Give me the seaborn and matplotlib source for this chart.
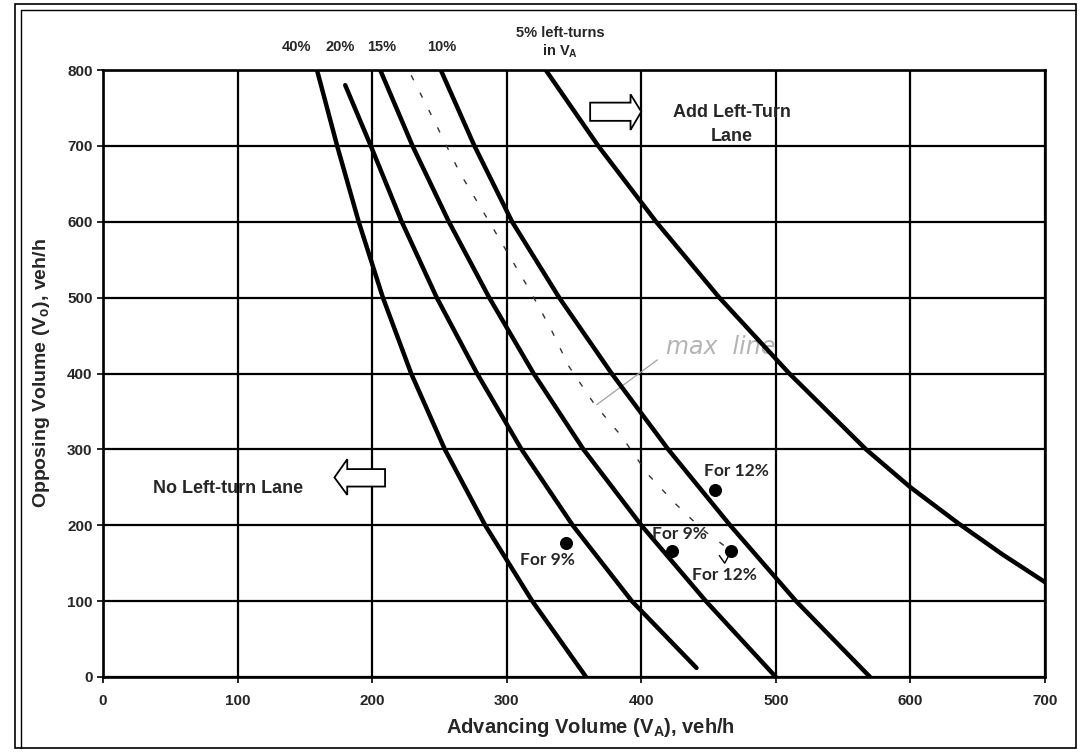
import numpy as np
import pandas as pd
import matplotlib
matplotlib.use("Agg")
import matplotlib.pyplot as plt
from matplotlib.patches import Polygon, Rectangle
from matplotlib.lines import Line2D
import seaborn as sns

# ---------------- data ----------------
curve_names = ["40%", "20%", "15%", "10%", "5%"]

curve40_x = [159, 174, 190, 208, 229, 254, 284, 319, 359]
curve40_y = [800, 700, 600, 500, 400, 300, 200, 100, 0]

curve20_x = [180, 199, 222, 248, 278, 311, 349, 393, 441]
curve20_y = [780, 700, 600, 500, 400, 300, 200, 100, 12]

curve15_x = [206, 230, 257, 287, 320, 357, 400, 448, 500]
curve15_y = [800, 700, 600, 500, 400, 300, 200, 100, 0]

curve10_x = [251, 276, 304, 339, 378, 420, 466, 515, 570]
curve10_y = [800, 700, 600, 500, 400, 300, 200, 100, 0]

curve5_x = [329, 368, 411, 458, 510, 567, 600, 636, 668, 700]
curve5_y = [800, 700, 600, 500, 400, 300, 250, 202, 162, 125]

# hand-drawn dashed 12% line
dash12_x = [229, 247, 265, 288, 306, 318, 333, 346, 365, 385, 405, 425, 445, 467]
dash12_y = [793, 730, 665, 597, 543, 507, 458, 410, 360, 318, 267, 229, 195, 166]

# marked points
pt_x = [344, 423, 455, 467]
pt_y = [177, 166, 246, 166]
pt_labels = ["For 9%", "For 9%", "For 12%", "For 12%"]
lab_x = [330, 428, 471, 462]
lab_y = [154, 188, 271, 134]

top_labels = ["40%", "20%", "15%", "10%"]
top_label_x = [144, 176, 207, 252]

x_ticks = [0, 100, 200, 300, 400, 500, 600, 700]
y_ticks = [0, 100, 200, 300, 400, 500, 600, 700, 800]

# ---------------- style ----------------
sns.set_theme(style="white")
plt.rcParams["font.family"] = ["Liberation Sans", "DejaVu Sans"]
plt.rcParams["mathtext.fontset"] = "custom"
plt.rcParams["mathtext.rm"] = "Liberation Sans"
plt.rcParams["mathtext.it"] = "Liberation Sans:italic"
plt.rcParams["mathtext.bf"] = "Liberation Sans:bold"

fig = plt.figure(figsize=(10.8, 7.52), dpi=100)
ax = fig.add_axes([103 / 1080, 75 / 752, 942 / 1080, 607 / 752])

rows = []
for name, xs, ys in [("40%", curve40_x, curve40_y), ("20%", curve20_x, curve20_y),
                     ("15%", curve15_x, curve15_y), ("10%", curve10_x, curve10_y),
                     ("5%", curve5_x, curve5_y)]:
    for i, (a, b) in enumerate(zip(xs, ys)):
        rows.append({"curve": name, "order": i, "x": a, "y": b})
df = pd.DataFrame(rows)

sns.lineplot(data=df, x="x", y="y", units="curve", estimator=None, sort=False,
             color="black", linewidth=3.2, ax=ax, legend=False, zorder=4)
for ln in ax.lines:
    ln.set_solid_joinstyle("round")
    ln.set_solid_capstyle("round")

dash_df = pd.DataFrame({"x": dash12_x, "y": dash12_y})
sns.lineplot(data=dash_df, x="x", y="y", sort=False, estimator=None, color="#333333",
             linewidth=1.0, linestyle=(0, (4, 10)), ax=ax, zorder=3)

pts_df = pd.DataFrame({"x": pt_x, "y": pt_y})
sns.scatterplot(data=pts_df, x="x", y="y", color="black", s=75, ax=ax, zorder=5,
                edgecolor="black")
# small hand-drawn tick mark near the lower 12% point
ax.plot([458, 462, 465], [160, 150, 160], color="black", linewidth=1.0, zorder=5)

for t, lx, ly in zip(pt_labels, lab_x, lab_y):
    ax.text(lx, ly, t, ha="center", va="center", fontsize=12.5, fontweight="bold",
            family=["Lato", "DejaVu Sans"], zorder=6)

# axes limits, grid, ticks
ax.set_xlim(0, 700)
ax.set_ylim(0, 800)
ax.set_xticks(x_ticks)
ax.set_yticks(y_ticks)
ax.set_xticklabels([str(v) for v in x_ticks], fontsize=11, fontweight="bold")
ax.set_yticklabels([str(v) for v in y_ticks], fontsize=11, fontweight="bold")
ax.grid(True, color="black", linewidth=1.6)
ax.set_axisbelow(True)
ax.tick_params(axis="both", which="major", direction="out", length=4.5, width=1.2,
               color="black", bottom=True, left=True)
ax.tick_params(axis="x", pad=8)
ax.tick_params(axis="y", pad=3)
for s in ax.spines.values():
    s.set_color("black")
    s.set_linewidth(1.9)

ax.set_xlabel(r"Advancing Volume ($\mathbf{V_A}$), veh/h", fontsize=14.5,
              fontweight="bold")
ax.set_ylabel(r"Opposing Volume ($\mathbf{V_o}$), veh/h", fontsize=14,
              fontweight="bold")
ax.xaxis.set_label_coords(0.517, -0.064)
ax.yaxis.set_label_coords(-0.054, 0.5)

# labels above the curves
for t, lx in zip(top_labels, top_label_x):
    ax.text(lx, 830, t, ha="center", va="center", fontsize=10.5, fontweight="bold",
            clip_on=False)
ax.text(340, 849, "5% left-turns", ha="center", va="center", fontsize=10.5,
        fontweight="bold", clip_on=False)
ax.text(340, 824, r"in $\mathbf{V_A}$", ha="center", va="center", fontsize=10.5,
        fontweight="bold", clip_on=False)

# region arrows
right_arrow = Polygon([(362, 733), (392, 733), (392, 721), (400, 745), (392, 768),
                       (392, 757), (362, 757)], closed=True, facecolor="white",
                      edgecolor="black", linewidth=1.3, zorder=6)
ax.add_patch(right_arrow)
ax.text(467, 728, "Add Left-Turn\nLane", ha="center", va="center", fontsize=13,
        fontweight="bold", linespacing=1.5, zorder=6)

left_arrow = Polygon([(172, 263), (181.5, 287), (181.5, 274), (209.6, 274),
                      (209.6, 251), (181.5, 251), (181.5, 240)], closed=True,
                     facecolor="white", edgecolor="black", linewidth=1.3, zorder=6)
ax.add_patch(left_arrow)
ax.text(93, 249, "No Left-turn Lane", ha="center", va="center", fontsize=13,
        fontweight="bold", zorder=6)

# faint handwritten note
ax.plot([367, 412], [359, 418], color="#a0a0a0", linewidth=0.9, zorder=3)
ax.text(418, 435, "max  line", ha="left", va="center", fontsize=17, color="#b4b4b4",
        style="italic", family=["DejaVu Sans"], zorder=3)

# scanned-page frame
fig.add_artist(Rectangle((15 / 1080, 4 / 752), 1061 / 1080, 744 / 752,
                         transform=fig.transFigure, fill=False, edgecolor="black",
                         linewidth=1.2))
fig.add_artist(Line2D([21 / 1080, 1076 / 1080], [1 - 10 / 752, 1 - 10 / 752],
                      transform=fig.transFigure, color="black", linewidth=1.0))
fig.add_artist(Line2D([21 / 1080, 21 / 1080], [4 / 752, 1 - 10 / 752],
                      transform=fig.transFigure, color="black", linewidth=1.0))

fig.savefig("out.png", dpi=100)
